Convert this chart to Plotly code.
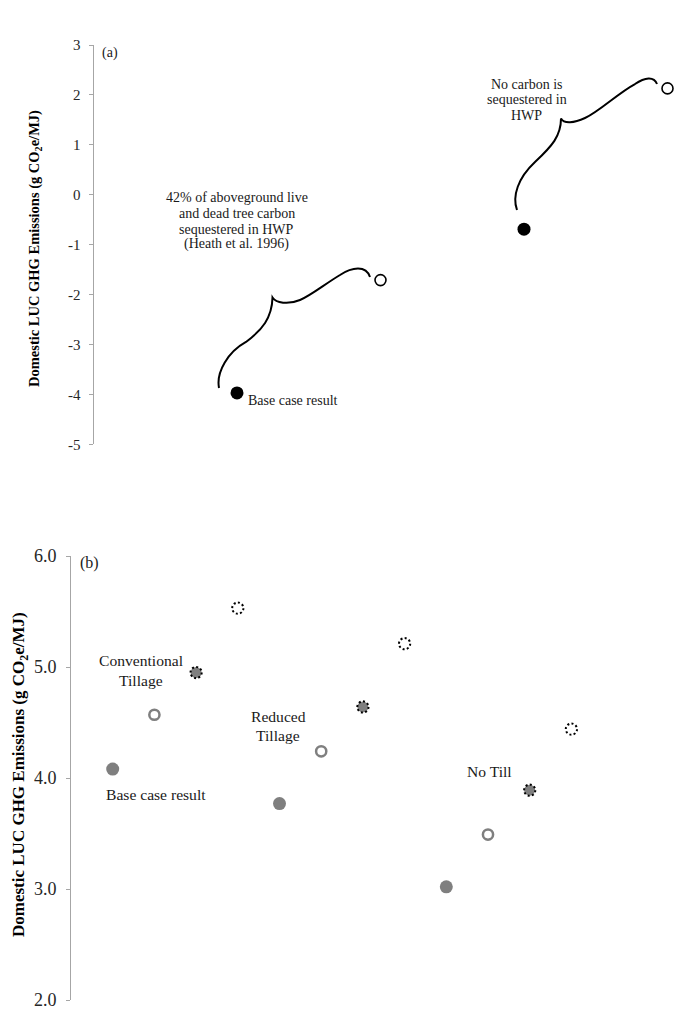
import plotly.graph_objects as go

W, H = 685, 1018          # browser window
PAD = 8                   # default body margin of the page
FW, FH = W - 2 * PAD, H - 2 * PAD
FONT = "Liberation Serif"

# ---------------- data: panel (a) ----------------
a_base_x = [1, 3]
a_base_y = [-3.97, -0.69]
a_alt_x = [2, 4]
a_alt_y = [-1.71, 2.13]
a_ticks = [3, 2, 1, 0, -1, -2, -3, -4, -5]

# ---------------- data: panel (b) ----------------
b_base_x = [1, 5, 9]
b_base_y = [4.08, 3.77, 3.02]
b_open_x = [2, 6, 10]
b_open_y = [4.57, 4.24, 3.49]
b_gdot_x = [3, 7, 11]
b_gdot_y = [4.95, 4.64, 3.89]
b_wdot_x = [4, 8, 12]
b_wdot_y = [5.53, 5.21, 4.44]
b_ticks = [2.0, 3.0, 4.0, 5.0, 6.0]

# ---------------- layout geometry (page pixels) ----------------
A_X0, A_XS = 93.5, 143.5          # panel a: x=0 pixel, px per unit
A_YTOP, A_YBOT = 45.0, 444.3      # y=3 and y=-5
B_X0, B_XS = 71.0, 41.7
B_YTOP, B_YBOT = 556.0, 1000.0    # y=6 and y=2
RIGHT = PAD + FW

def px(x):
    return (x - PAD) / FW

def py(y):
    return 1 - (y - PAD) / FH

fig = go.Figure()

# panel a traces
fig.add_trace(go.Scatter(x=a_base_x, y=a_base_y, mode="markers", xaxis="x", yaxis="y",
                         marker=dict(size=13, color="black", line=dict(width=0)),
                         showlegend=False, hoverinfo="skip", cliponaxis=False))
fig.add_trace(go.Scatter(x=a_alt_x, y=a_alt_y, mode="markers", xaxis="x", yaxis="y",
                         marker=dict(size=11, color="white", line=dict(width=1.6, color="black")),
                         showlegend=False, hoverinfo="skip", cliponaxis=False))

# panel b traces
GREY = "#7f7f7f"
fig.add_trace(go.Scatter(x=b_base_x, y=b_base_y, mode="markers", xaxis="x2", yaxis="y2",
                         marker=dict(size=13, color=GREY, line=dict(width=0)),
                         showlegend=False, hoverinfo="skip"))
fig.add_trace(go.Scatter(x=b_open_x, y=b_open_y, mode="markers", xaxis="x2", yaxis="y2",
                         marker=dict(size=10.2, color="white", line=dict(width=2.5, color=GREY)),
                         showlegend=False, hoverinfo="skip"))
fig.add_trace(go.Scatter(x=b_gdot_x, y=b_gdot_y, mode="markers", xaxis="x2", yaxis="y2",
                         marker=dict(size=11, color=GREY, line=dict(width=0)),
                         showlegend=False, hoverinfo="skip"))
fig.add_trace(go.Scatter(x=b_wdot_x, y=b_wdot_y, mode="markers", xaxis="x2", yaxis="y2",
                         marker=dict(size=11, color="white", line=dict(width=0)),
                         showlegend=False, hoverinfo="skip"))

shapes = []
# dotted outlines anchored at data points
for xs, ys in ((b_gdot_x, b_gdot_y), (b_wdot_x, b_wdot_y)):
    for xv, yv in zip(xs, ys):
        shapes.append(dict(type="circle", xref="x2", yref="y2",
                           xsizemode="pixel", ysizemode="pixel",
                           xanchor=xv, yanchor=yv, x0=-5.6, x1=5.6, y0=-5.6, y1=5.6,
                           line=dict(color="black", width=2, dash="2px,2.3px"),
                           fillcolor="rgba(0,0,0,0)", layer="above"))

# curly braces (decoration) anchored to the open points of panel a
def brace(segments, anchor_x, anchor_y):
    ax = A_X0 + anchor_x * A_XS
    ay = A_YTOP + (3 - anchor_y) * (A_YBOT - A_YTOP) / 8.0
    start, curves = segments
    def f(p):
        return f"{p[0]-ax:.1f},{-(p[1]-ay):.1f}"
    d = "M" + f(start)
    for c in curves:
        d += " C" + " ".join(f(p) for p in c)
    return dict(type="path", xref="x", yref="y", xsizemode="pixel", ysizemode="pixel",
                xanchor=anchor_x, yanchor=anchor_y, path=d,
                line=dict(color="black", width=2), layer="above")

brace1 = ((219, 388), [
    ((216, 372), (228, 352), (246, 342)),
    ((262, 330), (272, 318), (272.5, 297.5)),
    ((276, 303), (288, 305), (300, 300)),
    ((310, 296), (325, 284), (340, 275)),
    ((352, 267), (366, 265), (370, 277)),
])
brace2 = ((517, 210), [
    ((512, 196), (518, 178), (535, 162)),
    ((552, 146), (561, 136), (561, 118.5)),
    ((564, 124), (574, 123), (585, 118)),
    ((600, 111), (618, 93), (635, 84)),
    ((645, 77), (654, 76), (657, 84)),
])
shapes.append(brace(brace1, a_alt_x[0], a_alt_y[0]))
shapes.append(brace(brace2, a_alt_x[1], a_alt_y[1]))

annotations = []

def text(t, x, y, size, xanchor="center", angle=0, color="#1a1a1a"):
    annotations.append(dict(text=t, x=px(x), y=py(y), xref="paper", yref="paper",
                            xanchor=xanchor, yanchor="middle", showarrow=False,
                            textangle=angle,
                            font=dict(family=FONT, size=size, color=color)))

# panel a texts
text("(a)", 100, 53, 14, xanchor="left")
for line, yy in zip(["42% of aboveground live", "and dead tree carbon",
                     "sequestered in HWP", "(Heath et al. 1996)"],
                    [197.5, 213.3, 229.2, 244.5]):
    text(line, 236.7, yy, 14)
text("Base case result", 246, 400, 14, xanchor="left")
for line, yy in zip(["No carbon is", "sequestered in", "HWP"], [84, 100, 115.5]):
    text(line, 526.7, yy, 14)

# panel b texts
text("(b)", 78, 563, 16, xanchor="left")
text("Conventional", 141, 660, 15.6)
text("Tillage", 141, 680, 15.6)
text("Base case result", 156, 794, 15.6)
text("Reduced", 278, 716.7, 15.6)
text("Tillage", 278, 735.7, 15.6)
text("No Till", 489, 771, 15.6)

# y-axis titles
text("<b>Domestic LUC GHG Emissions (g CO<sub>2</sub>e/MJ)</b>", 35, 249, 14.5, angle=-90, color="black")
text("<b>Domestic LUC GHG Emissions (g CO<sub>2</sub>e/MJ)</b>", 20, 775, 17, angle=-90, color="black")

AXC = "#a6a6a6"
TICKC = "#262626"

fig.update_layout(
    width=FW, height=FH,
    margin=dict(l=0, r=0, t=0, b=0),
    paper_bgcolor="white", plot_bgcolor="white",
    showlegend=False,
    xaxis=dict(domain=[px(A_X0), 1], range=[0, (RIGHT - A_X0) / A_XS], visible=False,
               anchor="y", fixedrange=True, automargin=False),
    yaxis=dict(domain=[py(A_YBOT), py(A_YTOP)], range=[-5, 3], anchor="x",
               tickvals=a_ticks, ticktext=[str(v) for v in a_ticks],
               showline=True, linecolor=AXC, linewidth=1,
               ticks="outside", ticklen=4, tickcolor=AXC, tickwidth=1,
               showgrid=False, zeroline=False, ticklabelstandoff=5, automargin=False,
               ticklabeloverflow="allow",
               tickfont=dict(family=FONT, size=15, color=TICKC)),
    xaxis2=dict(domain=[px(B_X0), 1], range=[0, (RIGHT - B_X0) / B_XS], visible=False,
                anchor="y2", fixedrange=True, automargin=False),
    yaxis2=dict(domain=[py(B_YBOT), py(B_YTOP)], range=[2, 6], anchor="x2",
                tickvals=b_ticks, ticktext=[f"{v:.1f}" for v in b_ticks],
                showline=True, linecolor=AXC, linewidth=1,
                ticks="outside", ticklen=4, tickcolor=AXC, tickwidth=1,
                showgrid=False, zeroline=False, ticklabelstandoff=6, automargin=False,
                ticklabeloverflow="allow",
                tickfont=dict(family=FONT, size=18, color=TICKC)),
    shapes=shapes,
    annotations=annotations,
)

fig.write_html("out.html")
